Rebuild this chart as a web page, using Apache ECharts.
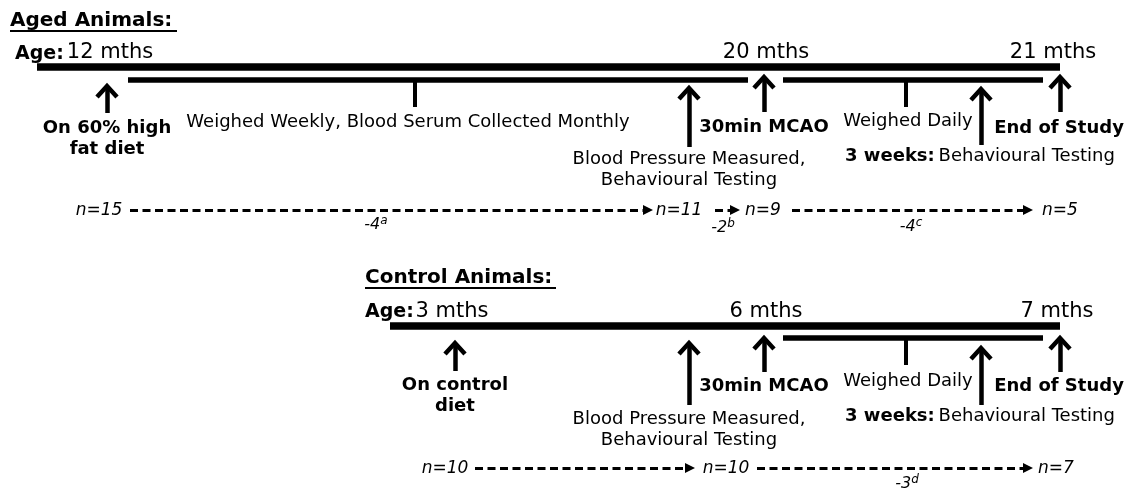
<!DOCTYPE html>
<html>
<head>
<meta charset="utf-8">
<script src="https://cdn.jsdelivr.net/npm/echarts@6/dist/echarts.min.js"></script>
<style>
html, body { margin: 0; padding: 0; background: #fff; }
#chart { width: 1126px; height: 489px; }
</style>
</head>
<body>
<div id="chart"></div>
<script>
var FONT = 'DejaVu Sans';
var INK = '#000';

// ---- texts ----
var agedTitle = 'Aged Animals:';
var ctrlTitle = 'Control Animals:';
var ageWord = 'Age:';
var agedAges = ['12 mths', '20 mths', '21 mths'];
var ctrlAges = ['3 mths', '6 mths', '7 mths'];
var agedStart = 'On 60% high\nfat diet';
var ctrlStart = 'On control\ndiet';
var agedPeriods = ['Weighed Weekly, Blood Serum Collected Monthly', 'Weighed Daily'];
var ctrlPeriods = ['Weighed Daily'];
var bpText = 'Blood Pressure Measured,\nBehavioural Testing';
var mcaoText = '30min MCAO';
var endText = 'End of Study';
var behavText = ['3 weeks:', 'Behavioural Testing'];
var agedN = ['n=15', 'n=11', 'n=9', 'n=5'];
var ctrlN = ['n=10', 'n=10', 'n=7'];
var agedLoss = [['-4', 'a'], ['-2', 'b'], ['-4', 'c']];
var ctrlLoss = [['-3', 'd']];

// ---- positions on the 1126 x 489 figure plane ----
var agedBar = [37, 1060, 67];          // x start, x end, y
var ctrlBar = [390, 1060, 326];
var agedSub = [[128, 748, 80, 415, 107], [783, 1043, 80, 906, 107]];  // x0, x1, y, tick x, tick bottom
var ctrlSub = [[783, 1043, 338, 906, 365]];
var agedArrows = [[107, 86, 113], [689, 88, 147], [764, 77, 112], [981, 89, 145], [1060, 77, 112]]; // x, tip, bottom
var ctrlArrows = [[455, 343, 371], [689, 343, 405], [764, 338, 372], [981, 348, 405], [1060, 338, 372]];
var agedDash = [[130, 653], [715, 740], [792, 1033]];
var ctrlDash = [[475, 695], [757, 1033]];
var agedNRow = 210, ctrlNRow = 468;
var agedNX = [99, 679, 763, 1060];
var ctrlNX = [445, 726, 1056];
var agedLossPos = [[376, 224], [723, 227], [911, 226]];
var ctrlLossPos = [[907, 483]];

var chart = echarts.init(document.getElementById('chart'));

var solid = [];
function seg(x0, y0, x1, y1, w) {
  solid.push({ coords: [[x0, y0], [x1, y1]], lineStyle: { width: w } });
}
var heads = [];
function arrow(a) {
  seg(a[0], a[1] + 2, a[0], a[2], 4.5);
  heads.push({ coords: [[a[0] - 10, a[1] + 11], [a[0], a[1]], [a[0] + 10, a[1] + 11]] });
}

seg(agedBar[0], agedBar[2], agedBar[1], agedBar[2], 7.5);
seg(ctrlBar[0], ctrlBar[2], ctrlBar[1], ctrlBar[2], 7.5);
agedSub.concat(ctrlSub).forEach(function (s) {
  seg(s[0], s[2], s[1], s[2], 5.5);
  seg(s[3], s[2], s[3], s[4], 4);
});
agedArrows.concat(ctrlArrows).forEach(arrow);
// title underlines
seg(10, 31, 177, 31, 2);
seg(365, 288, 556, 288, 2);

var dashed = [];
agedDash.forEach(function (d) { dashed.push({ coords: [[d[0], agedNRow], [d[1] - 5, agedNRow]] }); });
ctrlDash.forEach(function (d) { dashed.push({ coords: [[d[0], ctrlNRow], [d[1] - 5, ctrlNRow]] }); });

var bold = { fontWeight: 'bold', fontSize: 18, lineHeight: 21, color: INK };
var plain = { fontSize: 18, lineHeight: 21, color: INK };
var ageStyle = { fontSize: 21, color: INK };
var headStyle = { fontWeight: 'bold', fontSize: 20, align: 'left', color: INK };
var ageWordStyle = { fontWeight: 'bold', fontSize: 19, align: 'left', color: INK };
var nStyle = { fontStyle: 'italic', fontSize: 17, color: INK };
var lossStyle = { color: INK, rich: {
  n: { fontFamily: FONT, fontStyle: 'italic', fontSize: 16, lineHeight: 18, verticalAlign: 'bottom', color: INK },
  s: { fontFamily: FONT, fontStyle: 'italic', fontSize: 12, lineHeight: 12, verticalAlign: 'top', color: INK }
} };
var behavStyle = { color: INK, rich: {
  b: { fontFamily: FONT, fontWeight: 'bold', fontSize: 18, color: INK },
  r: { fontFamily: FONT, fontSize: 18, color: INK }
} };

var texts = [];
function txt(x, y, text, style) {
  texts.push({ value: [x, y], label: Object.assign({ formatter: text }, style) });
}

// aged
txt(10, 21, agedTitle, headStyle);
txt(15, 54, ageWord, ageWordStyle);
[110, 766, 1053].forEach(function (x, i) { txt(x, 53, agedAges[i], ageStyle); });
txt(107, 138.5, agedStart, bold);
txt(408, 122, agedPeriods[0], plain);
txt(908, 121, agedPeriods[1], plain);
txt(764, 127, mcaoText, bold);
txt(689, 169.5, bpText, plain);
txt(1059, 128, endText, bold);
txt(980, 156, '{b|' + behavText[0] + '} {r|' + behavText[1] + '}', behavStyle);
agedNX.forEach(function (x, i) { txt(x, agedNRow + 1, agedN[i], nStyle); });
agedLossPos.forEach(function (p, i) { txt(p[0], p[1], '{n|' + agedLoss[i][0] + '}{s|' + agedLoss[i][1] + '}', lossStyle); });

// control
txt(365, 278, ctrlTitle, headStyle);
txt(365, 312, ageWord, ageWordStyle);
[452, 766, 1057].forEach(function (x, i) { txt(x, 312, ctrlAges[i], ageStyle); });
txt(455, 396, ctrlStart, bold);
txt(908, 381, ctrlPeriods[0], plain);
txt(764, 386, mcaoText, bold);
txt(689, 430, bpText, plain);
txt(1059, 386, endText, bold);
txt(980, 416, '{b|' + behavText[0] + '} {r|' + behavText[1] + '}', behavStyle);
ctrlNX.forEach(function (x, i) { txt(x, ctrlNRow + 1, ctrlN[i], nStyle); });
ctrlLossPos.forEach(function (p, i) { txt(p[0], p[1], '{n|' + ctrlLoss[i][0] + '}{s|' + ctrlLoss[i][1] + '}', lossStyle); });

chart.setOption({
  backgroundColor: '#fff',
  animation: false,
  grid: { left: 0, right: 0, top: 0, bottom: 0 },
  xAxis: { type: 'value', min: 0, max: 1126, show: false },
  yAxis: { type: 'value', min: 0, max: 489, inverse: true, show: false },
  series: [
    {
      type: 'lines', coordinateSystem: 'cartesian2d', silent: true,
      lineStyle: { color: INK, opacity: 1, width: 5, cap: 'butt' },
      data: solid
    },
    {
      type: 'lines', coordinateSystem: 'cartesian2d', polyline: true, silent: true,
      lineStyle: { color: INK, opacity: 1, width: 4.5, join: 'miter', cap: 'butt' },
      data: heads
    },
    {
      type: 'lines', coordinateSystem: 'cartesian2d', silent: true,
      symbol: ['none', 'triangle'], symbolSize: 10,
      lineStyle: { color: INK, opacity: 1, width: 3, type: [8, 4.5] },
      data: dashed
    },
    {
      type: 'scatter', silent: true, symbolSize: 0,
      itemStyle: { color: 'rgba(0,0,0,0)', opacity: 1 },
      label: {
        show: true, position: 'inside', color: INK, opacity: 1, fontFamily: FONT,
        align: 'center', verticalAlign: 'middle'
      },
      data: texts
    }
  ]
});
</script>
</body>
</html>
